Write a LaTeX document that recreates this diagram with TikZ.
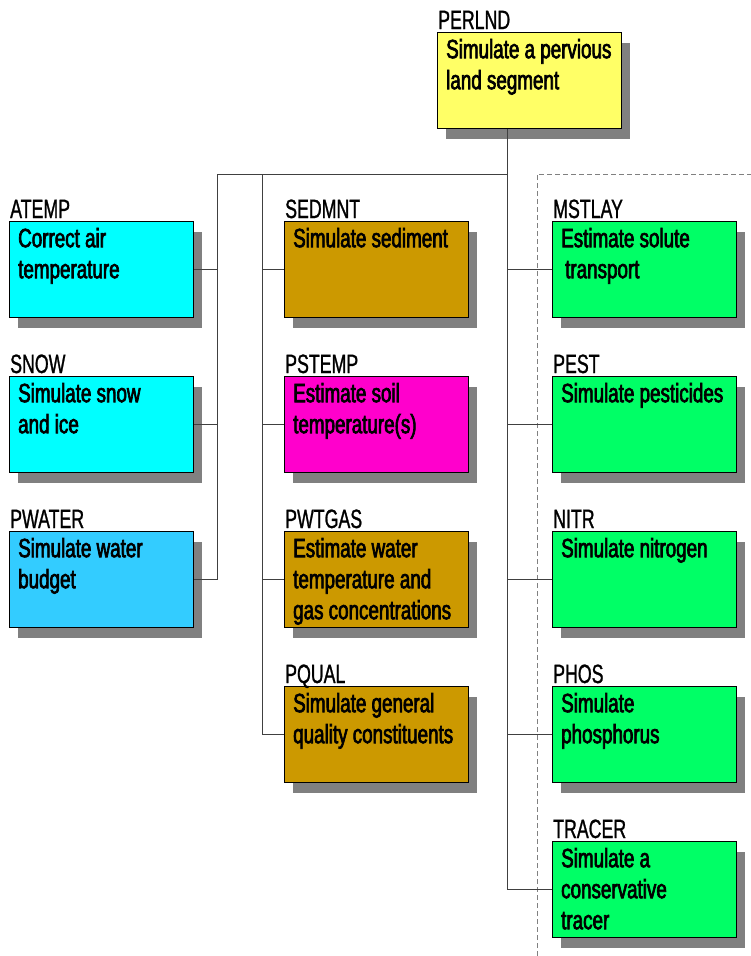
\documentclass[tikz,border=0pt]{standalone}
\usepackage{fontspec}
\usetikzlibrary{shadows,calc}
\newfontfamily\bodyfont[FakeStretch=0.71,FakeBold=2.5]{Liberation Sans}
\newfontfamily\titlefont[FakeStretch=0.67,FakeBold=1]{Liberation Sans}
\definecolor{cYellow}{HTML}{FFFF66}
\definecolor{cCyan}{HTML}{00FFFF}
\definecolor{cSky}{HTML}{33CCFF}
\definecolor{cBrown}{HTML}{CC9900}
\definecolor{cMagenta}{HTML}{FF00CC}
\definecolor{cGreen}{HTML}{00FF66}
\definecolor{shadowgray}{HTML}{808080}
\definecolor{linegray}{HTML}{404040}
\definecolor{dashgray}{HTML}{808080}
\tikzset{
  box/.style={draw=black, line width=1.4pt, minimum width=184pt, minimum height=96pt,
    inner sep=0pt, anchor=north west,
    drop shadow={shadow xshift=8pt, shadow yshift=-10pt, fill=shadowgray, opacity=1}},
  ttl/.style={font=\titlefont\fontsize{26.5}{30}\selectfont, inner sep=0pt, anchor=base west},
  body/.style={font=\bodyfont\fontsize{26.5}{31}\selectfont, inner sep=0pt, anchor=north west, align=left},
  conn/.style={draw=linegray, line width=1pt},
  dashline/.style={draw=dashgray, line width=1pt, dash pattern=on 5pt off 3pt},
}
\newcommand\modbox[6]{%
  \node[box, fill=#4] (#1) at (#2,#3) {};
  \node[ttl] (#1t) at ([xshift=1pt,yshift=3pt]#1.north west) {#5};
  \node[body] (#1b) at ([xshift=9pt,yshift=-4.3pt]#1.north west) {\strut #6};
}
\begin{document}
\begin{tikzpicture}[x=1pt,y=-1pt]
\useasboundingbox (0,0) rectangle (751,956);
% junction coordinates
\coordinate (jL) at (217,174);
\coordinate (jM) at (262,174);
\coordinate (jR) at (507,174);
\coordinate (dTop) at (537,174);
\coordinate (dRight) at (751,174);
\coordinate (dBot) at (537,956);
% dashed group outline
\draw[dashline] (dBot) -- (dTop) -- (dRight);
% boxes
\modbox{perlnd}{437}{32}{cYellow}{PERLND}{Simulate a pervious\\land segment}
\modbox{atemp}{9}{221}{cCyan}{ATEMP}{Correct air\\temperature}
\modbox{snow}{9}{376}{cCyan}{SNOW}{Simulate snow\\and ice}
\modbox{pwater}{9}{531}{cSky}{PWATER}{Simulate water\\budget}
\modbox{sedmnt}{284}{221}{cBrown}{SEDMNT}{Simulate sediment}
\modbox{pstemp}{284}{376}{cMagenta}{PSTEMP}{Estimate soil\\temperature(s)}
\modbox{pwtgas}{284}{531}{cBrown}{PWTGAS}{Estimate water\\temperature and\\gas concentrations}
\modbox{pqual}{284}{686}{cBrown}{PQUAL}{Simulate general\\quality constituents}
\modbox{mstlay}{552}{221}{cGreen}{MSTLAY}{Estimate solute\\\hspace*{4pt}transport}
\modbox{pest}{552}{376}{cGreen}{PEST}{Simulate pesticides}
\modbox{nitr}{552}{531}{cGreen}{NITR}{Simulate nitrogen}
\modbox{phos}{552}{686}{cGreen}{PHOS}{Simulate\\phosphorus}
\modbox{tracer}{552}{841}{cGreen}{TRACER}{Simulate a\\conservative\\tracer}
% connectors
\draw[conn] (perlnd.south -| jR) -- (jR);
\draw[conn] (jL) -- (jR);
\draw[conn] (jR) -- (jR |- tracer.west) -- (tracer.west);
\draw[conn] (mstlay.west) -- (mstlay.west -| jR);
\draw[conn] (pest.west) -- (pest.west -| jR);
\draw[conn] (nitr.west) -- (nitr.west -| jR);
\draw[conn] (phos.west) -- (phos.west -| jR);
\draw[conn] (jL) -- (jL |- pwater.east) -- (pwater.east);
\draw[conn] (atemp.east) -- (atemp.east -| jL);
\draw[conn] (snow.east) -- (snow.east -| jL);
\draw[conn] (jM) -- (jM |- pqual.west) -- (pqual.west);
\draw[conn] (sedmnt.west) -- (sedmnt.west -| jM);
\draw[conn] (pstemp.west) -- (pstemp.west -| jM);
\draw[conn] (pwtgas.west) -- (pwtgas.west -| jM);
\end{tikzpicture}
\end{document}
